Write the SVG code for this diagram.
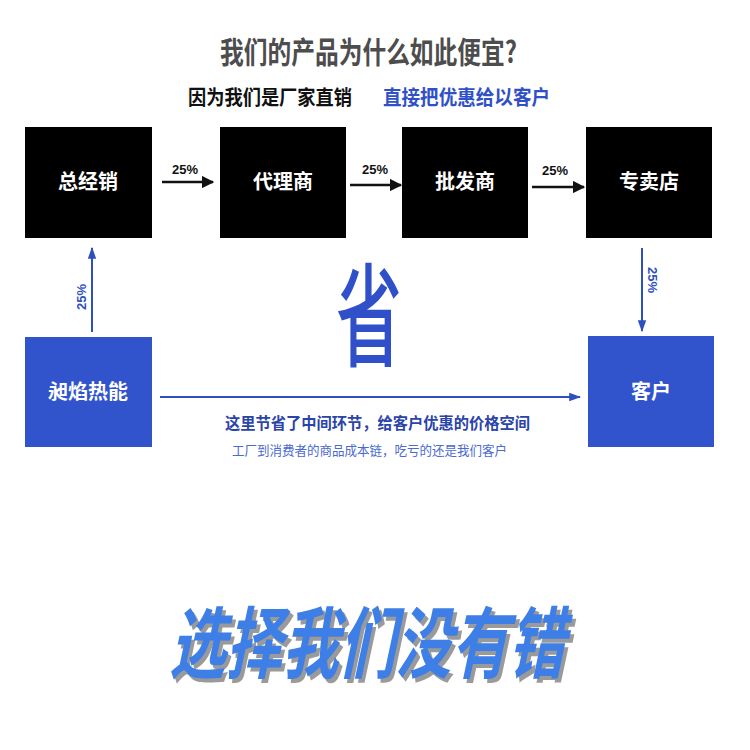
<svg xmlns="http://www.w3.org/2000/svg" width="750" height="750" viewBox="0 0 750 750">
<defs>
<style>
.cjk{font-family:"Noto Sans CJK SC","Noto Sans",sans-serif;font-weight:bold}
.reg{font-weight:normal}
.med{font-weight:500}
.lbl{font-family:"Liberation Sans",Arial,sans-serif;font-weight:bold;font-size:13px}
.blk{fill:#000}
.blu{fill:#3153cc}
.wt{fill:#fff;font-size:20px;text-anchor:middle}
</style>
<marker id="ab" viewBox="0 0 10 10" refX="9" refY="5" markerWidth="5" markerHeight="5" orient="auto" markerUnits="strokeWidth"><path d="M0,0L10,5L0,10z" fill="#111"/></marker>
<marker id="au" viewBox="0 0 10 10" refX="9" refY="5" markerWidth="6" markerHeight="6" orient="auto" markerUnits="strokeWidth"><path d="M0,1.5L10,5L0,8.5z" fill="#2d4fc0"/></marker>
</defs>
<rect width="750" height="750" fill="#fff"/>
<g id="title">
<text class="cjk" x="220" y="63" font-size="30" fill="#4d4d4d" textLength="297" lengthAdjust="spacingAndGlyphs">我们的产品为什么如此便宜?</text>
<text class="cjk" x="188" y="105" font-size="20" fill="#111" textLength="164" lengthAdjust="spacingAndGlyphs">因为我们是厂家直销</text>
<text class="cjk" x="383" y="105" font-size="20" fill="#3050c8" textLength="167" lengthAdjust="spacingAndGlyphs">直接把优惠给以客户</text>
</g>
<g id="n1"><rect class="blk" x="25" y="127" width="127" height="111"/><text class="cjk wt" x="88" y="189">总经销</text></g>
<g id="n2"><rect class="blk" x="220" y="127" width="126" height="111"/><text class="cjk wt" x="283" y="189">代理商</text></g>
<g id="n3"><rect class="blk" x="402" y="127" width="126" height="111"/><text class="cjk wt" x="465" y="189">批发商</text></g>
<g id="n4"><rect class="blk" x="586" y="127" width="126" height="111"/><text class="cjk wt" x="649" y="189">专卖店</text></g>
<g id="n5"><rect class="blu" x="25" y="337" width="127" height="110"/><text class="cjk wt" x="88" y="399">昶焰热能</text></g>
<g id="n6"><rect class="blu" x="588" y="336" width="126" height="111"/><text class="cjk wt" x="651" y="399">客户</text></g>
<g id="connectors">
<line x1="162" y1="182" x2="213" y2="182" stroke="#111" stroke-width="2.5" marker-end="url(#ab)"/>
<text class="lbl" x="185" y="174" text-anchor="middle" fill="#111">25%</text>
<line x1="350" y1="185" x2="401" y2="185" stroke="#111" stroke-width="2.5" marker-end="url(#ab)"/>
<text class="lbl" x="375" y="174" text-anchor="middle" fill="#111">25%</text>
<line x1="532" y1="187" x2="584" y2="187" stroke="#111" stroke-width="2.5" marker-end="url(#ab)"/>
<text class="lbl" x="555" y="175" text-anchor="middle" fill="#111">25%</text>
<line x1="92" y1="332" x2="92" y2="248" stroke="#2d4fc0" stroke-width="2" marker-end="url(#au)"/>
<text class="lbl" transform="translate(86,297) rotate(-90)" text-anchor="middle" fill="#2d4fc0">25%</text>
<line x1="642" y1="248" x2="642" y2="331" stroke="#2d4fc0" stroke-width="2" marker-end="url(#au)"/>
<text class="lbl" transform="translate(648,280) rotate(90)" text-anchor="middle" fill="#2d4fc0">25%</text>
<line x1="160" y1="397" x2="580" y2="397" stroke="#2d4fc0" stroke-width="2" marker-end="url(#au)"/>
</g>
<g id="saving">
<text class="cjk med" x="336" y="358" font-size="112" fill="#2f50c8" textLength="66" lengthAdjust="spacingAndGlyphs">省</text>
<text class="cjk" x="225" y="429" font-size="16" fill="#2a44a8" textLength="305" lengthAdjust="spacingAndGlyphs">这里节省了中间环节，给客户优惠的价格空间</text>
<text class="cjk reg" x="232" y="455" font-size="13" fill="#4a6ad0" textLength="275" lengthAdjust="spacingAndGlyphs">工厂到消费者的商品成本链，吃亏的还是我们客户</text>
</g>
<g id="slogan">
<g transform="skewX(-12)">
<text class="cjk" x="316" y="676" font-size="78" fill="#9a9a9a" textLength="395" lengthAdjust="spacingAndGlyphs">选择我们没有错</text>
<text class="cjk" x="312" y="672" font-size="78" fill="#3d7fe6" textLength="395" lengthAdjust="spacingAndGlyphs">选择我们没有错</text>
</g>
</g>
</svg>
